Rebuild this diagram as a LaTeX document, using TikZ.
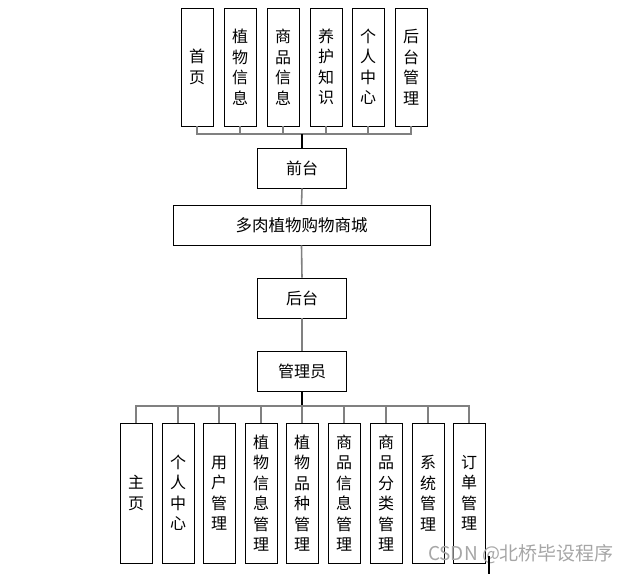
\documentclass[tikz,border=0pt]{standalone}
\usepackage{fontspec}
\setmainfont{Noto Sans CJK SC}

\begin{document}
\begin{tikzpicture}[x=1pt, y=-1pt,
        box/.style={draw, line width=0.9pt, fill=white, inner sep=0pt, align=center, font=\fontsize{16}{20.5}\selectfont},
        tbox/.style={box, minimum width=32pt, minimum height=118pt},
        bbox/.style={box, minimum width=32pt, minimum height=140pt},
        wbox/.style={box, minimum width=89pt, minimum height=40pt},
        link/.style={draw=gray, line width=1.6pt},
        stem/.style={draw=black, line width=2.2pt}]
        \useasboundingbox (0,0) rectangle (633,574);

        % Draw nodes
        \node[tbox] (sy) at (197,67) {首\\页};
        \node[tbox] (zwxx) at (240,67) {植\\物\\信\\息};
        \node[tbox] (spxx) at (283,67) {商\\品\\信\\息};
        \node[tbox] (yhzs) at (326,67) {养\\护\\知\\识};
        \node[tbox] (grzx) at (368,67) {个\\人\\中\\心};
        \node[tbox] (htgl) at (411,67) {后\\台\\管\\理};

        \node[wbox] (qt) at (302,168) {前台};
        \node[box, minimum width=257pt, minimum height=40pt, font=\fontsize{16.5}{20}\selectfont] (shop) at (301.5,225) {多肉植物购物商城};
        \node[wbox] (ht) at (302,298) {后台};
        \node[wbox] (gly) at (302,371) {管理员};

        \node[bbox] (zy) at (136,493) {主\\页};
        \node[bbox] (grzx2) at (178,493) {个\\人\\中\\心};
        \node[bbox] (yhgl) at (219,493) {用\\户\\管\\理};
        \node[bbox] (zwxxgl) at (261,493) {植\\物\\信\\息\\管\\理};
        \node[bbox] (zwpzgl) at (302,493) {植\\物\\品\\种\\管\\理};
        \node[bbox] (spxxgl) at (344,493) {商\\品\\信\\息\\管\\理};
        \node[bbox] (spflgl) at (386,493) {商\\品\\分\\类\\管\\理};
        \node[bbox] (xtgl) at (428,493) {系\\统\\管\\理};
        \node[bbox] (ddgl) at (469,493) {订\\单\\管\\理};

        \node[text=gray!70, font=\fontsize{19}{19}\selectfont] (wm) at (521,554) {CSDN @北桥毕设程序};

        \coordinate (bt) at (302,134);
        \coordinate (bb) at (302,406);
        \coordinate (m1) at (489,556);
        \coordinate (m2) at (489,574);

        % Draw connections
        \foreach \n in {sy, zwxx, spxx, yhzs, grzx, htgl}
            \draw[link] (\n.south) -- (\n.south |- bt) -| (bt);
        \draw[stem] (bt) -- (qt.north);
        \draw[link] (qt.south) -- (shop.north);
        \draw[link] (shop.south) -- (ht.north);
        \draw[link] (ht.south) -- (gly.north);
        \draw[stem] (gly.south) -- (bb);
        \foreach \n in {zy, grzx2, yhgl, zwxxgl, zwpzgl, spxxgl, spflgl, xtgl, ddgl}
            \draw[link] (bb) -| (\n.north);
        \draw[stem] (m1) -- (m2);
\end{tikzpicture}
\end{document}
